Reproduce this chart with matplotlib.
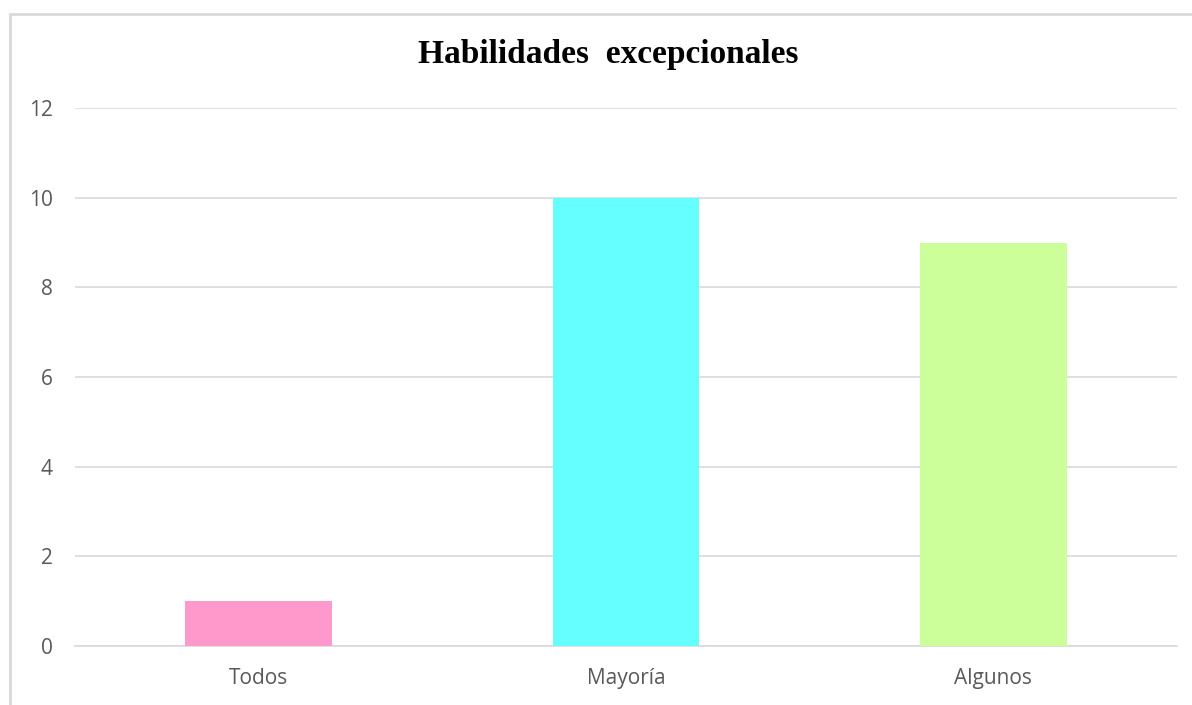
import matplotlib.pyplot as plt
from matplotlib.patches import Rectangle

categorias = ['Todos', 'Mayoría', 'Algunos']
valores = [1, 10, 9]
colores = ['#FF99CC', '#66FFFF', '#CCFF99']
y_ticks = [0, 2, 4, 6, 8, 10, 12]

fig = plt.figure(figsize=(11.92, 7.05), dpi=100)

# Chart area border (left and top visible)
fig.patches.append(Rectangle((10/1192, -0.1), 1.2, 1 - 14/705 + 0.1,
                             transform=fig.transFigure, fill=False,
                             edgecolor='#d9d9d9', linewidth=2, zorder=0))

ax = fig.add_axes([75/1192, 1 - 646/705, 1102/1192, (646 - 108)/705])
x = range(len(categorias))
ax.bar(x, valores, width=0.4, color=colores, zorder=3)
ax.set_xlim(-0.5, 2.5)
ax.set_ylim(0, 12)
ax.set_yticks(y_ticks)
ax.set_xticks(list(x))
ax.set_xticklabels(categorias)
ax.grid(axis='y', color='#d9d9d9', linewidth=1.2, zorder=0)
for s in ['top', 'right', 'left']:
	ax.spines[s].set_visible(False)
ax.spines['bottom'].set_color('#d9d9d9')
ax.spines['bottom'].set_linewidth(1.2)
ax.tick_params(length=0, labelsize=15, labelcolor='#595959')
ax.tick_params(axis='x', pad=16)
ax.tick_params(axis='y', pad=16)
for lab in ax.get_xticklabels() + ax.get_yticklabels():
	lab.set_family('Open Sans')

fig.text(608/1192, 1 - 55/705, 'Habilidades  excepcionales', ha='center', va='center',
         fontsize=24, fontweight='bold', family='Liberation Serif')

fig.savefig('out.png', dpi=100)
